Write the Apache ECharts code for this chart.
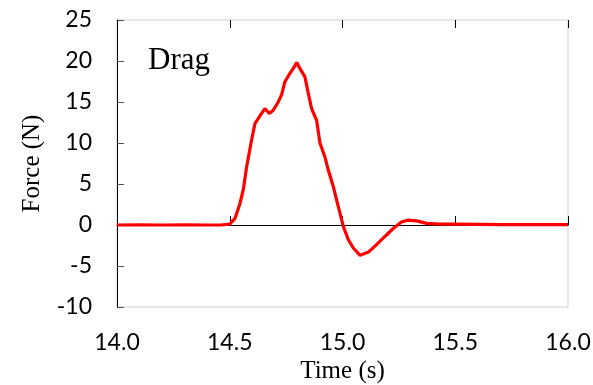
<!DOCTYPE html>
<html>
<head>
<meta charset="utf-8">
<script src="https://cdn.jsdelivr.net/npm/echarts@6/dist/echarts.min.js"></script>
<style>
  html, body { margin: 0; padding: 0; background: #fff; }
  #chart { width: 593px; height: 385px; }
</style>
</head>
<body>
<div id="chart"></div>
<script>
const time = [14.0, 14.1, 14.2, 14.3, 14.4, 14.46, 14.5, 14.523, 14.545, 14.56, 14.575, 14.597, 14.612, 14.627, 14.641, 14.656, 14.675, 14.693, 14.715, 14.73, 14.745, 14.767, 14.782, 14.797, 14.811, 14.833, 14.848, 14.863, 14.885, 14.9, 14.922, 14.937, 14.959, 14.978, 15.004, 15.026, 15.048, 15.078, 15.115, 15.151, 15.188, 15.226, 15.263, 15.292, 15.329, 15.373, 15.432, 15.5, 15.6, 15.7, 15.8, 15.9, 16.0];
const force = [0, 0.02, 0, 0.02, 0, 0, 0.1, 0.8, 2.6, 4.3, 7.1, 10.4, 12.4, 13.0, 13.6, 14.2, 13.6, 14.0, 15.0, 15.9, 17.5, 18.5, 19.1, 19.8, 19.1, 18.1, 16.1, 14.2, 12.8, 10.0, 8.3, 6.7, 4.7, 2.6, -0.2, -1.8, -2.8, -3.7, -3.3, -2.4, -1.4, -0.4, 0.4, 0.6, 0.5, 0.2, 0.1, 0.1, 0.08, 0.05, 0.05, 0.05, 0.05];

const chart = echarts.init(document.getElementById('chart'));

const tickFont = { fontFamily: 'Lato', fontSize: 23, color: '#000' };

const option = {
  animation: false,
  grid: {
    left: 117, right: 25, top: 20, bottom: 78,
    outerBoundsMode: 'none',
    containLabel: false,
    show: true, borderColor: '#d0d0d0', borderWidth: 1
  },
  graphic: [
    {
      type: 'text', left: 148, top: 45,
      style: { text: 'Drag', font: '31px "Liberation Serif"', fill: '#000' }
    }
  ],
  xAxis: [
    {
      type: 'value', min: 14, max: 16, interval: 0.5,
      position: 'bottom',
      axisLine: { onZero: false, show: false },
      axisTick: { show: false },
      splitLine: { show: false },
      axisLabel: Object.assign({ margin: 24, formatter: v => v.toFixed(1) }, tickFont),
      name: 'Time (s)',
      nameLocation: 'middle',
      nameGap: 48,
      nameTextStyle: { fontFamily: 'Liberation Serif', fontSize: 25, color: '#000' }
    },
    {
      type: 'value', min: 14, max: 16, interval: 0.5,
      axisLine: { onZero: true, lineStyle: { color: '#000', width: 1 } },
      axisTick: { show: true, inside: false, length: 9, lineStyle: { color: '#000' } },
      axisLabel: { show: false },
      splitLine: { show: false }
    },
    {
      type: 'value', min: 14, max: 16, interval: 0.5,
      axisLine: { onZero: true, show: false },
      axisTick: { show: true, inside: true, length: 8, lineStyle: { color: '#000' } },
      axisLabel: { show: false },
      splitLine: { show: false }
    }
  ],
  yAxis: {
    type: 'value', min: -10, max: 25, interval: 5,
    axisLine: { show: true, lineStyle: { color: '#000', width: 1 } },
    axisTick: { show: true, inside: true, length: 7, lineStyle: { color: '#555' } },
    splitLine: { show: false },
    axisLabel: Object.assign({ margin: 25 }, tickFont),
    name: 'Force (N)',
    nameLocation: 'middle',
    nameGap: 72,
    nameTextStyle: { fontFamily: 'Liberation Serif', fontSize: 25, color: '#000' }
  },
  series: [
    {
      type: 'line',
      xAxisIndex: 1,
      data: time.map((t, i) => [t, force[i]]),
      showSymbol: false,
      lineStyle: { color: '#ff0000', width: 3.2 },
      z: 3
    }
  ]
};

chart.setOption(option);
</script>
</body>
</html>
